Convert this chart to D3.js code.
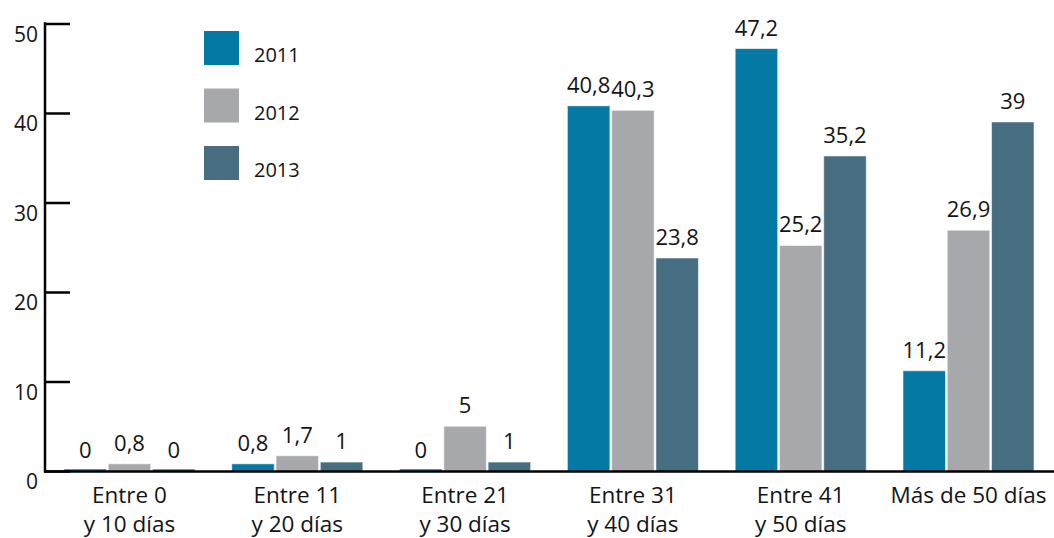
<!DOCTYPE html>
<html><head><meta charset="utf-8">
<script src="https://cdn.jsdelivr.net/npm/d3@7"></script>
<style>
html,body{margin:0;padding:0;background:#fff;}
svg text{font-family:"Open Sans","Noto Sans",sans-serif;fill:#141414;}
</style></head>
<body><svg id="c" width="1054" height="538"></svg>
<script>
const categories = [["Entre 0","y 10 días"],["Entre 11","y 20 días"],["Entre 21","y 30 días"],["Entre 31","y 40 días"],["Entre 41","y 50 días"],["Más de 50 días"]];
const seriesNames = ["2011","2012","2013"];
const values2011 = [0, 0.8, 0, 40.8, 47.2, 11.2];
const values2012 = [0.8, 1.7, 5, 40.3, 25.2, 26.9];
const values2013 = [0, 1, 1, 23.8, 35.2, 39];
const yTicks = [0, 10, 20, 30, 40, 50];
const colors = ["#0479a3", "#a7a8ac", "#476e80"];

const series = [values2011, values2012, values2013];
const fmt = v => String(v).replace(".", ",");

const svg = d3.select("#c");
const catKeys = categories.map(c => c.join(" "));
const x0 = d3.scaleBand().domain(catKeys).range([45, 1053]).paddingInner(0.219).paddingOuter(0.113);
const x1 = d3.scaleBand().domain(seriesNames).range([0, x0.bandwidth()]).paddingInner(0.04);
const y = d3.scaleLinear().domain([0, 50]).range([471, 23.5]);

// bars
const groups = svg.append("g").selectAll("g").data(catKeys).join("g")
  .attr("transform", d => `translate(${x0(d)},0)`);
groups.each(function(cat, ci) {
  const g = d3.select(this);
  seriesNames.forEach((s, si) => {
    const v = series[si][ci];
    const top = Math.min(y(v), y(0) - 2);
    g.append("rect")
      .attr("x", x1(s)).attr("width", x1.bandwidth())
      .attr("y", top).attr("height", y(0) - top + 1)
      .attr("fill", colors[si])
      .attr("stroke", "rgba(255,255,255,0.55)").attr("stroke-width", 1);
    g.append("text")
      .attr("x", x1(s) + x1.bandwidth() / 2)
      .attr("y", y(v) - 13)
      .attr("text-anchor", "middle")
      .style("font-size", "22px")
      .text(fmt(v));
  });
});

// y axis
const yAxis = d3.axisRight(y).tickValues(yTicks).tickSize(25).tickFormat("");
const ya = svg.append("g").attr("transform", "translate(45,0)").call(yAxis);
ya.select(".domain").remove();
ya.selectAll(".tick line").attr("stroke", "#000").attr("stroke-width", 2.5);
svg.append("line").attr("x1", 45).attr("x2", 45).attr("y1", y(50) - 1.2).attr("y2", y(0) + 1.5)
  .attr("stroke", "#000").attr("stroke-width", 2.5);
svg.append("g").selectAll("text").data(yTicks).join("text")
  .attr("x", 38).attr("y", d => y(d) + 18)
  .attr("text-anchor", "end")
  .style("font-size", "21px")
  .text(d => d);

// x axis line
svg.append("line").attr("x1", 44).attr("x2", 1054).attr("y1", y(0) + 0.5).attr("y2", y(0) + 0.5)
  .attr("stroke", "#000").attr("stroke-width", 2.5);

// category labels (one text per line)
const catLines = [];
categories.forEach((c, i) => c.forEach((line, li) => catLines.push({i, li, line})));
svg.append("g").selectAll("text").data(catLines).join("text")
  .attr("x", d => x0(catKeys[d.i]) + x0.bandwidth() / 2)
  .attr("y", d => 503 + d.li * 29)
  .attr("text-anchor", "middle")
  .style("font-size", "22.5px")
  .text(d => d.line);

// legend
const lg = svg.append("g").attr("transform", "translate(204,31)");
seriesNames.forEach((s, i) => {
  lg.append("rect").attr("x", 0).attr("y", i * 57.5).attr("width", 35).attr("height", 34).attr("fill", colors[i]);
  lg.append("text").attr("x", 50).attr("y", i * 57.5 + 31).style("font-size", "20px").text(s);
});
</script></body></html>
